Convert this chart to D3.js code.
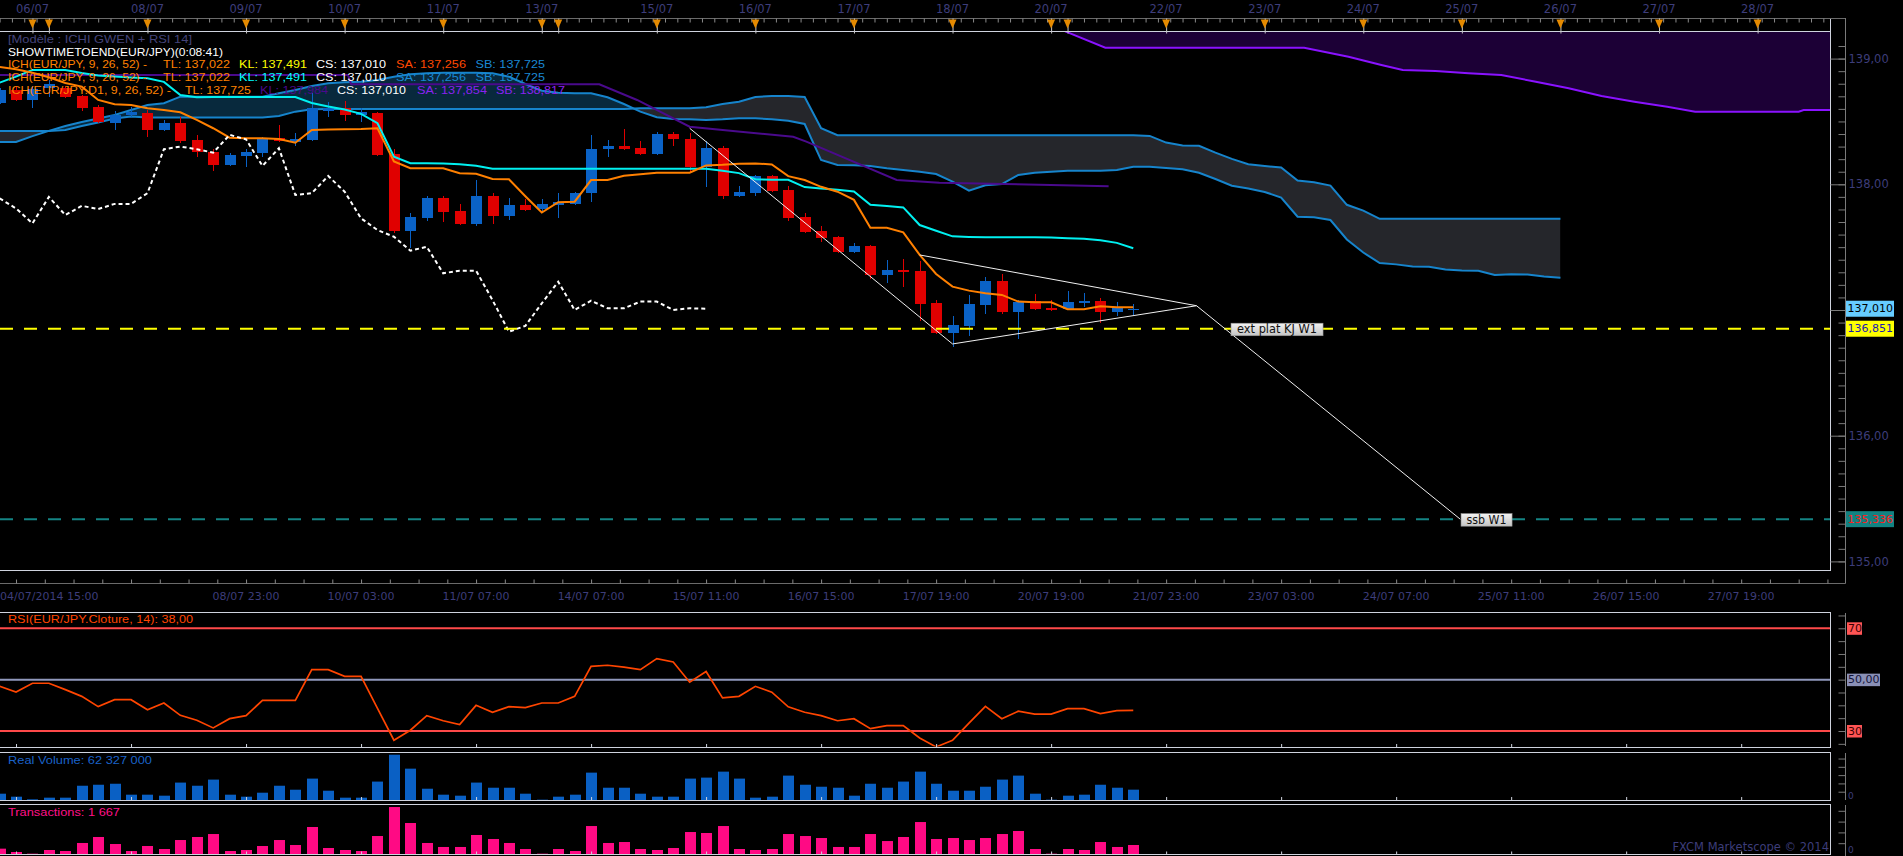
<!DOCTYPE html>
<html><head><meta charset="utf-8">
<script src="https://cdn.jsdelivr.net/npm/d3@7/dist/d3.min.js"></script>
<style>
html,body{margin:0;padding:0;background:#000;overflow:hidden;}
svg{display:block;}
</style></head><body>
<svg id="c" width="1903" height="856"></svg>
<script>
// ===== DATA (EUR/JPY H4) =====
const candleOpen  = [138.650,138.751,138.671,138.766,138.764,138.703,138.615,138.490,138.552,138.570,138.432,138.490,138.353,138.260,138.154,138.226,138.252,138.371,138.339,138.353,138.583,138.610,138.552,138.565,138.242,137.632,137.735,137.894,137.788,137.685,137.908,137.751,137.836,137.804,137.836,137.844,137.929,138.279,138.305,138.289,138.244,138.400,138.361,138.138,138.289,137.910,137.934,138.066,137.955,137.741,137.629,137.581,137.465,137.510,137.279,137.316,137.310,137.056,136.819,136.872,137.042,137.231,136.985,137.072,137.017,137.006,137.059,137.072,136.985,137.009];
const candleHigh  = [138.766,138.782,138.782,138.830,138.782,138.711,138.631,138.586,138.618,138.591,138.512,138.533,138.393,138.279,138.250,138.279,138.377,138.472,138.406,138.724,138.657,138.663,138.607,138.574,138.279,137.770,137.910,137.908,137.846,138.035,137.934,137.894,137.881,137.884,137.929,137.942,138.392,138.353,138.440,138.345,138.419,138.419,138.411,138.348,138.305,137.987,138.074,138.074,137.987,137.770,137.668,137.589,137.531,137.518,137.398,137.406,137.388,137.080,136.952,137.119,137.265,137.287,137.080,137.127,137.080,137.151,137.138,137.094,137.067,137.048];
const candleLow   = [138.639,138.663,138.610,138.697,138.687,138.586,138.486,138.432,138.533,138.379,138.424,138.327,138.220,138.109,138.146,138.141,138.220,138.337,138.302,138.345,138.533,138.504,138.498,138.226,137.611,137.492,137.711,137.703,137.677,137.672,137.685,137.716,137.788,137.770,137.735,137.836,137.862,138.220,138.273,138.234,138.236,138.302,138.101,137.981,137.886,137.897,137.910,137.939,137.711,137.613,137.544,137.455,137.455,137.247,137.218,137.179,136.915,136.809,136.708,136.796,136.968,136.968,136.773,137.001,136.993,137.001,137.027,136.895,136.951,136.957];
const candleClose = [138.751,138.671,138.756,138.798,138.697,138.610,138.494,138.552,138.578,138.432,138.490,138.347,138.260,138.154,138.234,138.255,138.361,138.345,138.361,138.605,138.607,138.552,138.576,138.234,137.632,137.741,137.894,137.782,137.685,137.908,137.751,137.836,137.799,137.844,137.862,137.934,138.281,138.305,138.281,138.244,138.400,138.358,138.138,138.289,137.910,137.937,138.066,137.949,137.735,137.624,137.576,137.465,137.510,137.279,137.316,137.305,137.050,136.819,136.880,137.048,137.231,136.985,137.067,137.009,137.001,137.064,137.075,136.985,137.017,137.010];

// Ichimoku H4 (9,26,52)
const tenkan = [138.934,138.915,138.888,138.852,138.806,138.777,138.671,138.637,138.631,138.605,138.591,138.573,138.512,138.446,138.371,138.366,138.366,138.361,138.331,138.432,138.435,138.438,138.440,138.446,138.181,138.128,138.128,138.128,138.088,138.083,138.043,138.040,137.905,137.775,137.858,137.862,138.034,138.034,138.068,138.079,138.092,138.092,138.092,138.150,138.155,138.163,138.166,138.158,138.065,138.034,137.980,137.941,137.876,137.655,137.655,137.618,137.438,137.287,137.186,137.154,137.133,137.120,137.067,137.062,137.062,137.006,137.006,137.030,137.022,137.022];
const kijun = [138.809,138.857,138.910,138.910,138.910,138.886,138.866,138.857,138.850,138.844,138.815,138.711,138.692,138.695,138.695,138.695,138.695,138.695,138.695,138.647,138.619,138.595,138.560,138.486,138.220,138.168,138.168,138.165,138.160,138.147,138.123,138.123,138.123,138.123,138.123,138.123,138.123,138.123,138.123,138.123,138.123,138.123,138.123,138.123,138.107,138.089,138.041,138.036,138.036,137.978,137.967,137.957,137.943,137.837,137.827,137.816,137.676,137.631,137.586,137.581,137.578,137.578,137.578,137.578,137.576,137.570,137.566,137.555,137.534,137.491];
const chikou = [137.888,137.808,137.689,137.900,137.755,137.829,137.803,137.844,137.844,137.929,138.279,138.300,138.279,138.252,138.393,138.358,138.146,138.287,137.915,137.929,138.066,137.941,137.729,137.636,137.583,137.472,137.503,137.292,137.313,137.313,137.079,136.827,136.874,137.053,137.225,137.000,137.074,137.014,137.014,137.067,137.067,137.000,137.014,137.010];
const senkouA = [138.337,138.337,138.383,138.425,138.464,138.496,138.523,138.552,138.591,138.631,138.645,138.697,138.697,138.697,138.697,138.697,138.697,138.724,138.750,138.782,138.803,138.811,138.816,138.830,138.856,138.875,138.883,138.888,138.888,138.888,138.883,138.856,138.798,138.745,138.729,138.724,138.724,138.692,138.639,138.578,138.533,138.520,138.517,138.512,138.517,138.525,138.525,138.517,138.506,138.480,138.193,138.154,138.151,138.146,138.127,138.114,138.100,138.082,138.021,137.949,137.992,138.002,138.074,138.092,138.100,138.108,138.108,138.108,138.114,138.140,138.140,138.130,138.119,138.092,138.042,137.989,137.967,137.939,137.895,137.742,137.737,137.716,137.561,137.457,137.374,137.363,137.346,137.344,137.322,137.315,137.312,137.278,137.284,137.282,137.266,137.256];
const senkouB = [138.425,138.425,138.425,138.425,138.432,138.464,138.491,138.523,138.539,138.531,138.531,138.531,138.531,138.531,138.531,138.531,138.531,138.544,138.578,138.597,138.599,138.599,138.599,138.599,138.599,138.599,138.599,138.599,138.599,138.599,138.599,138.599,138.599,138.599,138.599,138.599,138.599,138.599,138.599,138.605,138.605,138.605,138.605,138.613,138.639,138.657,138.695,138.703,138.703,138.695,138.446,138.390,138.390,138.390,138.390,138.390,138.390,138.390,138.390,138.390,138.390,138.390,138.390,138.390,138.390,138.390,138.390,138.390,138.390,138.390,138.385,138.332,138.308,138.306,138.252,138.202,138.160,138.146,138.133,138.030,138.017,137.990,137.837,137.791,137.725,137.725,137.725,137.725,137.725,137.725,137.725,137.725,137.725,137.725,137.725,137.725];

// Ichimoku D1 projected on H4 (bar index, price)
const d1KijunIdx = [0,21.2,21.4,36.5,38.8,42,45.1,48.3,49.1,54.6,57.2,67.5];
const d1KijunVal = [138.870,138.870,138.796,138.796,138.671,138.458,138.418,138.378,138.339,138.034,138.013,137.984];
const d1CloudIdx = [62,64.9,67.3,79.4,82.1,84.1,85.4,87.4,89.4,91.4,93.5,95.5,97.5,99.5,101.5,103.2,109.5,109.8,112];
const d1CloudLow = [139.40,139.214,139.087,139.087,139.015,138.949,138.909,138.901,138.883,138.870,138.816,138.764,138.702,138.657,138.617,138.578,138.578,138.591,138.591];
const d1CloudTop = 139.6; // upper edge lies above the visible range
const d1Legend = {tl:137.725, kl:137.984, sa:137.854, sb:138.817};

// Oscillators / volumes
const rsi = [47.4,45.2,48.6,48.6,46.1,43.5,39.5,42.2,42.2,38.3,40.9,36.1,34.2,31.2,34.8,36.0,41.9,41.9,41.9,53.9,53.9,51.3,51.3,38.8,26.4,30.3,36.0,34.0,32.5,40.0,37.3,39.5,39.1,40.9,40.9,43.5,55.2,55.6,54.9,53.9,58.2,56.9,49.0,53.2,42.9,43.5,47.4,45.1,39.4,37.3,36.0,34.0,34.8,30.9,32.1,32.1,27.3,23.8,26.4,33.1,39.6,34.8,37.7,36.6,36.6,38.7,38.7,36.8,37.9,38.0];
const volumeM = [38,20,4,14,14,86,92,98,32,32,26,105,86,123,32,20,44,86,62,129,56,14,14,111,273,189,68,32,26,105,74,74,38,2,20,32,165,74,74,38,20,20,129,135,171,129,14,20,147,92,80,74,26,98,74,111,171,98,56,56,80,123,147,38,2,26,32,92,74,62.327];
const transactions = [990,370,60,740,555,2040,3150,1850,555,1480,925,2590,3150,3700,555,740,1480,2590,1665,5000,1110,740,555,3330,8700,5740,2040,1300,1300,3520,2780,2040,925,60,925,555,5180,2040,2220,925,740,1110,4070,3890,5180,925,740,925,3700,3330,2960,1300,1300,3700,2400,3150,5920,2780,2960,2590,2960,3700,4260,925,60,925,740,2220,1300,1667];

// Levels and drawings
const levelKJ = 136.851, levelSSB = 135.336;
const trendIdx = [42, 58, 72.85, 56, 88.9];
const trendVal = [138.446, 136.730, 137.034, 137.438, 135.336];
const trendSegs = [[0,1],[1,2],[3,2],[2,4]];

// Time axes
const topLabels = ["06/07","08/07","09/07","10/07","11/07","13/07","15/07","16/07","17/07","18/07","20/07","22/07","23/07","24/07","25/07","26/07","27/07","28/07"];
const topLabelIdx = [2,9,15,21,27,33,40,46,52,58,64,71,77,83,89,95,101,107];
const dayMarkIdx = [2,3,9,15,21,27,33,34,40,46,52,58,64,65,71,77,83,89,95,101,107];
const bottomLabels = ["04/07/2014 15:00","08/07 23:00","10/07 03:00","11/07 07:00","14/07 07:00","15/07 11:00","16/07 15:00","17/07 19:00","20/07 19:00","21/07 23:00","23/07 03:00","24/07 07:00","25/07 11:00","26/07 15:00","27/07 19:00"];
const bottomLabelIdx = [1,15,22,29,36,43,50,57,64,71,78,85,92,99,106];
const priceTicks = [135,136,137,138,139];
const priceLabelTicks = [135,136,138,139]; // 137,00 sits under the close tag

// ===== DRAW =====
const W = 1903, H = 856;
const svg = d3.select("#c");
svg.append("rect").attr("width", W).attr("height", H).attr("fill", "#000");
const comma = (v, p) => d3.format("." + p + "f")(v).replace(".", ",");
const spaced = v => d3.format(",")(v).replace(/,/g, " ");

const PR = 1830, AX = 1845.5;
const x = d3.scaleLinear().domain([0, 100]).range([-0.4, 1642.6]);
const y = d3.scaleLinear().domain([135, 139]).range([561.4, 58.6]);
const yR = d3.scaleLinear().domain([30, 70]).range([731, 628.3]);
const yV = d3.scaleLinear().domain([0, 290]).range([800, 751.9]);
const yTr = d3.scaleLinear().domain([0, 9260]).range([854, 804]);

const UP = "#0a62c6", DN = "#e00000";
const AXC = "#3d3d7a", FONT_AX = "DejaVu Sans, sans-serif", FONT_LG = "Liberation Sans, Arial, sans-serif";

const defs = svg.append("defs");
const clip = (id, x0, y0, w, h) => defs.append("clipPath").attr("id", id).append("rect").attr("x", x0).attr("y", y0).attr("width", w).attr("height", h);
clip("cMain", 0, 31.5, PR, 538);
clip("cRsi", 0, 612.5, PR, 134);
clip("cVol", 0, 753, PR, 47);
clip("cTr", 0, 804.5, PR, 50);
clip("cVolAx", PR + 1, 750, 80, 51);

// cloud clip regions
const cIdx = senkouA.map((d, i) => i);
defs.append("clipPath").attr("id", "aboveB").append("path")
  .attr("d", d3.area().x(i => x(i)).y0(0).y1(i => y(senkouB[i]))(cIdx));
defs.append("clipPath").attr("id", "belowB").append("path")
  .attr("d", d3.area().x(i => x(i)).y0(i => y(senkouB[i])).y1(H)(cIdx));

const gm = svg.append("g").attr("clip-path", "url(#cMain)");

// D1 cloud
const d1Pts = d1CloudIdx.map((v, i) => [v, d1CloudLow[i]]);
gm.append("path").attr("d", d3.area().x(d => x(d[0])).y0(y(d1CloudTop)).y1(d => y(d[1]))(d1Pts))
  .attr("fill", "#1c0036");
gm.append("path").attr("d", d3.line().x(d => x(d[0])).y(d => y(d[1]))(d1Pts))
  .attr("fill", "none").attr("stroke", "#8a12ff").attr("stroke-width", 2);

// H4 cloud
const between = d3.area().x(i => x(i)).y0(i => y(senkouB[i])).y1(i => y(senkouA[i]));
gm.append("path").attr("d", between(cIdx)).attr("fill", "#08293d").attr("clip-path", "url(#aboveB)");
gm.append("path").attr("d", between(cIdx)).attr("fill", "#25262b").attr("clip-path", "url(#belowB)");
const lineOf = arr => d3.line().x((d, i) => x(i)).y(d => y(d))(arr);
gm.append("path").attr("d", lineOf(senkouB)).attr("fill", "none").attr("stroke", "#1684cc").attr("stroke-width", 2);
gm.append("path").attr("d", lineOf(senkouA)).attr("fill", "none").attr("stroke", "#1684cc").attr("stroke-width", 2);

// D1 kijun
const d1K = d1KijunIdx.map((v, i) => [v, d1KijunVal[i]]);
gm.append("path").attr("d", d3.line().x(d => x(d[0])).y(d => y(d[1]))(d1K))
  .attr("fill", "none").attr("stroke", "#4a0a8c").attr("stroke-width", 2);

// candles
const candles = candleOpen.map((o, i) => ({ i, o, h: candleHigh[i], l: candleLow[i], c: candleClose[i] }));
const gc = gm.append("g").attr("shape-rendering", "crispEdges");
gc.selectAll("line").data(candles).join("line")
  .attr("x1", d => Math.round(x(d.i)) + 0.5).attr("x2", d => Math.round(x(d.i)) + 0.5)
  .attr("y1", d => y(d.h)).attr("y2", d => y(d.l))
  .attr("stroke", d => d.c >= d.o ? UP : DN).attr("stroke-width", 1);
gc.selectAll("rect").data(candles).join("rect")
  .attr("x", d => Math.round(x(d.i)) - 5).attr("width", 11)
  .attr("y", d => y(Math.max(d.o, d.c)))
  .attr("height", d => Math.max(1.5, Math.abs(y(d.o) - y(d.c))))
  .attr("fill", d => d.c >= d.o ? UP : DN);

// tenkan / kijun / chikou
gm.append("path").attr("d", lineOf(kijun)).attr("fill", "none").attr("stroke", "#00f0f0").attr("stroke-width", 2);
gm.append("path").attr("d", lineOf(tenkan)).attr("fill", "none").attr("stroke", "#ff8000").attr("stroke-width", 2);
gm.append("path").attr("d", lineOf(chikou)).attr("fill", "none").attr("stroke", "#ffffff")
  .attr("stroke-width", 2).attr("stroke-dasharray", "4,3");

// horizontal levels
gm.append("line").attr("x1", 0).attr("x2", PR).attr("y1", y(levelKJ)).attr("y2", y(levelKJ))
  .attr("stroke", "#ffff00").attr("stroke-width", 2).attr("stroke-dasharray", "13,11");
gm.append("line").attr("x1", 0).attr("x2", PR).attr("y1", y(levelSSB)).attr("y2", y(levelSSB))
  .attr("stroke", "#148484").attr("stroke-width", 2).attr("stroke-dasharray", "13,11");

// trend drawings
gm.selectAll("line.tr").data(trendSegs).join("line").attr("class", "tr")
  .attr("x1", d => x(trendIdx[d[0]])).attr("y1", d => y(trendVal[d[0]]))
  .attr("x2", d => x(trendIdx[d[1]])).attr("y2", d => y(trendVal[d[1]]))
  .attr("stroke", "#f0f0f0").attr("stroke-width", 1);

// annotation labels
const grad = defs.append("linearGradient").attr("id", "lbl").attr("x1", 0).attr("x2", 0).attr("y1", 0).attr("y2", 1);
grad.append("stop").attr("offset", "0").attr("stop-color", "#f2f2f2");
grad.append("stop").attr("offset", "1").attr("stop-color", "#c4c4c4");
function annot(txt, i, v, w, tw) {
  const g = gm.append("g");
  g.append("rect").attr("x", x(i)).attr("y", y(v) - 5.5).attr("width", w).attr("height", 12.5)
    .attr("fill", "url(#lbl)").attr("stroke", "#9a9a9a").attr("stroke-width", 0.6);
  g.append("text").attr("x", x(i) + (w - tw) / 2).attr("y", y(v) + 1)
    .attr("dominant-baseline", "middle").attr("font-family", FONT_AX).attr("font-size", 11.5)
    .attr("textLength", tw).attr("lengthAdjust", "spacingAndGlyphs")
    .attr("fill", "#111").text(txt);
}
annot("ext plat KJ W1", 74.95, levelKJ, 92, 80);
annot("ssb W1", 88.95, levelSSB, 51, 40);

// legend text (segment: text, x, width, colour)
function legendLine(yy, parts, fs) {
  parts.forEach(p => svg.append("text").attr("x", p[1]).attr("y", yy).attr("dominant-baseline", "middle")
    .attr("font-family", FONT_LG).attr("font-size", fs || 11.5)
    .attr("textLength", p[2]).attr("lengthAdjust", "spacingAndGlyphs")
    .attr("fill", p[3]).text(p[0]));
}
const OR = "#ff8000", BL = "#1a88d4", PU = "#8a22f0";
const last = a => a[a.length - 1];
const vTL = comma(last(tenkan), 3), vKL = comma(last(kijun), 3), vCS = comma(last(candleClose), 3);
const vSA = comma(last(senkouA), 3), vSB = comma(last(senkouB), 3);
legendLine(39.5, [["[Modèle : ICHI GWEN + RSI 14]", 8, 184, "#44447a"]]);
legendLine(52.5, [["SHOWTIMETOEND(EUR/JPY)(0:08:41)", 8, 215, "#ffffff"]]);
legendLine(65, [["ICH(EUR/JPY, 9, 26, 52) -", 8, 139, OR], ["TL: " + vTL, 163, 67, OR], ["KL: " + vKL, 239, 68, "#ffff00"], ["CS: " + vCS, 316, 70, "#ffffff"], ["SA: " + vSA, 396, 70, "#ff4800"], ["SB: " + vSB, 475.5, 69.5, BL]]);
legendLine(78, [["ICH(EUR/JPY, 9, 26, 52) -", 8, 139, OR], ["TL: " + vTL, 163, 67, OR], ["KL: " + vKL, 239, 68, "#00ffff"], ["CS: " + vCS, 316, 70, "#ffffff"], ["SA: " + vSA, 396, 70, BL], ["SB: " + vSB, 475.5, 69.5, BL]]);
legendLine(91, [["ICH(EUR/JPY.D1, 9, 26, 52) -", 8, 163, OR], ["TL: " + comma(d1Legend.tl, 3), 185, 66, OR], ["KL: " + comma(d1Legend.kl, 3), 260, 68, "#4a0a8c"], ["CS: " + vCS, 337, 69, "#ffffff"], ["SA: " + comma(d1Legend.sa, 3), 417, 70, PU], ["SB: " + comma(d1Legend.sb, 3), 496, 69, PU]]);

// main panel frame
const fr = svg.append("g").attr("stroke", "#cfd3de").attr("stroke-width", 1).attr("shape-rendering", "crispEdges");
fr.append("line").attr("x1", 0).attr("x2", PR + 0.5).attr("y1", 31.5).attr("y2", 31.5);
fr.append("line").attr("x1", PR + 0.5).attr("x2", PR + 0.5).attr("y1", 18.5).attr("y2", 570.5);
fr.append("line").attr("x1", 0).attr("x2", PR + 0.5).attr("y1", 570.5).attr("y2", 570.5);

// top time axis
const topAx = svg.append("g").attr("transform", "translate(0,18.5)")
  .call(d3.axisBottom(x).tickValues(d3.range(0, 111.5, 0.75)).tickSize(4).tickFormat(""));
topAx.select(".domain").attr("stroke", "#6a6a6a").attr("d", "M0,0H" + AX);
topAx.selectAll(".tick line").attr("stroke", "#8a8a8a");
const dayAx = svg.append("g").attr("transform", "translate(0,18.5)")
  .call(d3.axisBottom(x).tickValues(dayMarkIdx).tickSize(15).tickFormat(""));
dayAx.select(".domain").remove();
dayAx.selectAll(".tick line").attr("stroke", "#c8c8c8");
svg.append("g").selectAll("path").data(dayMarkIdx).join("path")
  .attr("d", d => `M${x(d) - 4},19.5L${x(d) + 4},19.5L${x(d)},28.5Z`).attr("fill", "#e58a00");
svg.append("g").selectAll("text").data(topLabels).join("text")
  .attr("x", (d, i) => x(topLabelIdx[i])).attr("y", 9.5).attr("text-anchor", "middle")
  .attr("dominant-baseline", "middle").attr("font-family", FONT_AX).attr("font-size", 11.5)
  .attr("fill", AXC).text(d => d);

// bottom time axis
const botAx = svg.append("g").attr("transform", "translate(0,583.5)")
  .call(d3.axisTop(x).tickValues(d3.range(1, 111.5, 1.75)).tickSize(4).tickFormat(""));
botAx.select(".domain").attr("stroke", "#6a6a6a").attr("d", "M0,0H" + AX);
botAx.selectAll(".tick line").attr("stroke", "#8a8a8a");
svg.append("g").selectAll("text").data(bottomLabels).join("text")
  .attr("x", (d, i) => i === 0 ? 0 : x(bottomLabelIdx[i])).attr("y", 597)
  .attr("text-anchor", (d, i) => i === 0 ? "start" : "middle")
  .attr("dominant-baseline", "middle").attr("font-family", FONT_AX).attr("font-size", 11)
  .attr("fill", AXC).text(d => d);

// right price axis
const minorP = d3.range(1350, 1392).map(v => v / 10);
const pAx = svg.append("g").attr("transform", `translate(${AX},0)`)
  .call(d3.axisLeft(y).tickValues(minorP).tickSize(7).tickFormat(""));
pAx.select(".domain").attr("stroke", "#7a7a7a").attr("d", "M0,18V583.5");
pAx.selectAll(".tick line").attr("stroke", "#7a7a7a");
const pMaj = svg.append("g").attr("transform", `translate(${AX},0)`)
  .call(d3.axisLeft(y).tickValues(priceTicks).tickSize(15).tickFormat(""));
pMaj.select(".domain").remove();
pMaj.selectAll(".tick line").attr("stroke", "#7a7a7a");
const pLab = svg.append("g").attr("transform", `translate(${AX},0)`)
  .call(d3.axisRight(y).tickValues(priceLabelTicks).tickSize(0).tickPadding(3).tickFormat(d => comma(d, 2)));
pLab.select(".domain").remove();
pLab.selectAll("text").attr("fill", AXC).attr("font-family", FONT_AX).attr("font-size", 11.5);

function priceTag(v, bg, fg) {
  const g = svg.append("g");
  g.append("rect").attr("x", 1846).attr("y", y(v) - 8).attr("width", 48).attr("height", 16).attr("fill", bg);
  g.append("text").attr("x", 1847.5).attr("y", y(v) + 0.5).attr("dominant-baseline", "middle")
    .attr("font-family", FONT_AX).attr("font-size", 11).attr("fill", fg).text(comma(v, 3));
}
priceTag(last(candleClose), "#66ccff", "#000000");
priceTag(levelKJ, "#ffff00", "#1a1ab0");
priceTag(levelSSB, "#128282", "#ff2020");

// ===== RSI panel =====
const gr = svg.append("g");
gr.append("rect").attr("x", -1).attr("y", 612.5).attr("width", PR + 1.5).attr("height", 134.5)
  .attr("fill", "none").attr("stroke", "#cfd3de").attr("shape-rendering", "crispEdges");
[[70, "#ff4a4a"], [50, "#9098bc"], [30, "#ff4a4a"]].forEach(l => {
  gr.append("line").attr("x1", 0).attr("x2", PR).attr("y1", yR(l[0])).attr("y2", yR(l[0]))
    .attr("stroke", l[1]).attr("stroke-width", 2);
});
gr.append("g").attr("clip-path", "url(#cRsi)").append("path")
  .attr("d", d3.line().x((d, i) => x(i)).y(d => yR(d))(rsi))
  .attr("fill", "none").attr("stroke", "#ff4500").attr("stroke-width", 1.7);
gr.append("text").attr("x", 8).attr("y", 619.5).attr("dominant-baseline", "middle")
  .attr("font-family", FONT_LG).attr("font-size", 11.5).attr("fill", "#ff4500")
  .attr("textLength", 185).attr("lengthAdjust", "spacingAndGlyphs")
  .text("RSI(EUR/JPY.Cloture, 14): " + comma(last(rsi), 2));
const rAx = svg.append("g").attr("transform", `translate(${AX},0)`)
  .call(d3.axisLeft(yR).tickValues(d3.range(25, 80, 5)).tickSize(7).tickFormat(""));
rAx.select(".domain").attr("stroke", "#7a7a7a").attr("d", "M0,613V746");
rAx.selectAll(".tick line").attr("stroke", "#7a7a7a");
rAx.selectAll(".tick").filter(d => d < 24 || d > 76).remove();
function rsiTag(v, bg, fg, txt, w) {
  svg.append("rect").attr("x", 1847).attr("y", yR(v) - 6).attr("width", w).attr("height", 12.5).attr("fill", bg);
  svg.append("text").attr("x", 1848).attr("y", yR(v) + 0.5).attr("dominant-baseline", "middle")
    .attr("font-family", FONT_AX).attr("font-size", 11).attr("fill", fg).text(txt);
}
rsiTag(70, "#ff5454", "#3a0000", "70", 15);
rsiTag(50, "#8a90b6", "#14143a", comma(50, 2), 33);
rsiTag(30, "#ff5454", "#3a0000", "30", 15);

// ===== Volume panel =====
const gv = svg.append("g");
gv.append("rect").attr("x", -1).attr("y", 752.5).attr("width", PR + 1.5).attr("height", 47.5)
  .attr("fill", "none").attr("stroke", "#cfd3de").attr("shape-rendering", "crispEdges");
gv.append("g").attr("clip-path", "url(#cVol)").selectAll("rect").data(volumeM).join("rect")
  .attr("x", (d, i) => Math.round(x(i)) - 5).attr("width", 11)
  .attr("y", d => yV(d)).attr("height", d => yV(0) - yV(d)).attr("fill", "#0a60c4");
gv.append("text").attr("x", 8).attr("y", 760.5).attr("dominant-baseline", "middle")
  .attr("font-family", FONT_LG).attr("font-size", 11.5).attr("fill", "#1a62c8")
  .attr("textLength", 144).attr("lengthAdjust", "spacingAndGlyphs")
  .text("Real Volume: " + spaced(Math.round(last(volumeM) * 1e6)));
const vAx = svg.append("g").attr("transform", `translate(${AX},0)`)
  .call(d3.axisLeft(yV).tickValues([50, 100, 150, 200, 250]).tickSize(7).tickFormat(""));
vAx.select(".domain").attr("stroke", "#7a7a7a").attr("d", "M0,753V800");
vAx.selectAll(".tick line").attr("stroke", "#7a7a7a");
svg.append("text").attr("x", 1848).attr("y", 796.5)
  .attr("dominant-baseline", "middle").attr("font-family", FONT_AX).attr("font-size", 9).attr("fill", AXC).text("0");

// ===== Transactions panel =====
const gt = svg.append("g");
gt.append("rect").attr("x", -1).attr("y", 804.5).attr("width", PR + 1.5).attr("height", 50)
  .attr("fill", "none").attr("stroke", "#cfd3de").attr("shape-rendering", "crispEdges");
gt.append("g").attr("clip-path", "url(#cTr)").selectAll("rect").data(transactions).join("rect")
  .attr("x", (d, i) => Math.round(x(i)) - 5).attr("width", 11)
  .attr("y", d => yTr(d)).attr("height", d => yTr(0) - yTr(d)).attr("fill", "#ff0a84");
gt.append("text").attr("x", 8).attr("y", 812.5).attr("dominant-baseline", "middle")
  .attr("font-family", FONT_LG).attr("font-size", 11.5).attr("fill", "#ff1088")
  .attr("textLength", 112).attr("lengthAdjust", "spacingAndGlyphs")
  .text("Transactions: " + spaced(last(transactions)));
const tAx = svg.append("g").attr("transform", `translate(${AX},0)`)
  .call(d3.axisLeft(yTr).tickValues([2000, 4000, 6000, 8000]).tickSize(7).tickFormat(""));
tAx.select(".domain").attr("stroke", "#7a7a7a").attr("d", "M0,805V856");
tAx.selectAll(".tick line").attr("stroke", "#7a7a7a");
svg.append("text").attr("x", 1848).attr("y", 850)
  .attr("dominant-baseline", "middle").attr("font-family", FONT_AX).attr("font-size", 9).attr("fill", AXC).text("0");

// label ticks on lower panels
[747, 800, 854.5].forEach(b => {
  const a = svg.append("g").attr("transform", `translate(0,${b})`)
    .call(d3.axisTop(x).tickValues(d3.range(1, 111.5, 7)).tickSize(3).tickFormat(""));
  a.select(".domain").remove();
  a.selectAll(".tick line").attr("stroke", "#cfd3de");
});

svg.append("text").attr("x", 1829).attr("y", 847).attr("text-anchor", "end").attr("dominant-baseline", "middle")
  .attr("font-family", FONT_AX).attr("font-size", 11.5).attr("fill", AXC).text("FXCM Marketscope © 2014");
</script>
</body></html>
